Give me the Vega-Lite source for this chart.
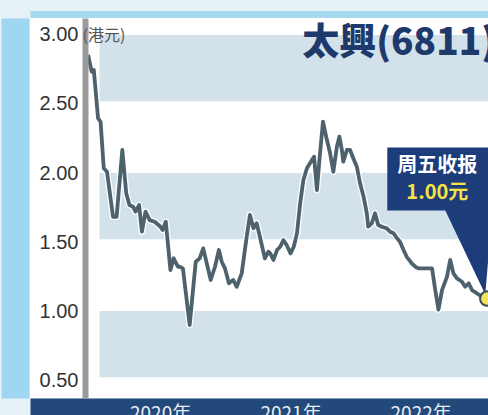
{
  "$schema": "https://vega.github.io/schema/vega-lite/v6.json",
  "width": 458,
  "height": 380,
  "autosize": {"type": "none"},
  "padding": {"left": 30, "top": 18, "right": 0, "bottom": 17},
  "background": "#e6f2f7",
  "view": {"fill": "#ffffff", "stroke": null},
  "title": {
    "text": "太興(6811)",
    "orient": "top",
    "anchor": "end",
    "frame": "group",
    "font": "Noto Sans CJK TC",
    "fontSize": 37,
    "fontWeight": 900,
    "color": "#1e3a6c",
    "baseline": "middle",
    "offset": -67,
    "dx": 8
  },
  "datasets": {
    "bands": [
      {"top": 3.0, "bottom": 2.52},
      {"top": 2.0, "bottom": 1.52},
      {"top": 1.0, "bottom": 0.52}
    ],
    "prices": [
      {"date": "2019-06-13", "price": 2.855},
      {"date": "2019-06-23", "price": 2.734},
      {"date": "2019-06-29", "price": 2.746},
      {"date": "2019-07-11", "price": 2.396},
      {"date": "2019-07-18", "price": 2.372},
      {"date": "2019-07-27", "price": 2.034},
      {"date": "2019-08-05", "price": 2.009},
      {"date": "2019-08-22", "price": 1.683},
      {"date": "2019-09-01", "price": 1.683},
      {"date": "2019-09-17", "price": 2.167},
      {"date": "2019-09-28", "price": 1.853},
      {"date": "2019-10-07", "price": 1.768},
      {"date": "2019-10-17", "price": 1.756},
      {"date": "2019-10-24", "price": 1.72},
      {"date": "2019-11-03", "price": 1.768},
      {"date": "2019-11-11", "price": 1.575},
      {"date": "2019-11-21", "price": 1.72},
      {"date": "2019-12-03", "price": 1.659},
      {"date": "2019-12-17", "price": 1.647},
      {"date": "2020-01-02", "price": 1.611},
      {"date": "2020-01-08", "price": 1.587},
      {"date": "2020-01-17", "price": 1.647},
      {"date": "2020-01-30", "price": 1.297},
      {"date": "2020-02-08", "price": 1.382},
      {"date": "2020-02-20", "price": 1.321},
      {"date": "2020-02-25", "price": 1.321},
      {"date": "2020-03-05", "price": 1.309},
      {"date": "2020-03-24", "price": 0.899},
      {"date": "2020-04-10", "price": 1.357},
      {"date": "2020-04-21", "price": 1.382},
      {"date": "2020-05-01", "price": 1.454},
      {"date": "2020-05-22", "price": 1.225},
      {"date": "2020-06-03", "price": 1.321},
      {"date": "2020-06-14", "price": 1.442},
      {"date": "2020-06-22", "price": 1.357},
      {"date": "2020-07-01", "price": 1.309},
      {"date": "2020-07-12", "price": 1.201},
      {"date": "2020-07-24", "price": 1.225},
      {"date": "2020-08-03", "price": 1.176},
      {"date": "2020-08-17", "price": 1.273},
      {"date": "2020-08-31", "price": 1.538},
      {"date": "2020-09-09", "price": 1.696},
      {"date": "2020-09-19", "price": 1.599},
      {"date": "2020-09-28", "price": 1.636},
      {"date": "2020-10-07", "price": 1.538},
      {"date": "2020-10-21", "price": 1.382},
      {"date": "2020-10-31", "price": 1.43},
      {"date": "2020-11-05", "price": 1.418},
      {"date": "2020-11-14", "price": 1.37},
      {"date": "2020-11-24", "price": 1.442},
      {"date": "2020-12-03", "price": 1.466},
      {"date": "2020-12-12", "price": 1.514},
      {"date": "2020-12-21", "price": 1.478},
      {"date": "2021-01-01", "price": 1.418},
      {"date": "2021-01-10", "price": 1.466},
      {"date": "2021-01-19", "price": 1.563},
      {"date": "2021-01-28", "price": 1.78},
      {"date": "2021-02-06", "price": 1.949},
      {"date": "2021-02-16", "price": 2.034},
      {"date": "2021-03-02", "price": 2.094},
      {"date": "2021-03-08", "price": 2.118},
      {"date": "2021-03-16", "price": 1.877},
      {"date": "2021-03-23", "price": 2.094},
      {"date": "2021-04-02", "price": 2.372},
      {"date": "2021-04-11", "price": 2.263},
      {"date": "2021-04-22", "price": 2.143},
      {"date": "2021-05-01", "price": 2.009},
      {"date": "2021-05-11", "price": 2.191},
      {"date": "2021-05-18", "price": 2.263},
      {"date": "2021-05-25", "price": 2.167},
      {"date": "2021-05-29", "price": 2.082},
      {"date": "2021-06-08", "price": 2.167},
      {"date": "2021-06-17", "price": 2.167},
      {"date": "2021-06-26", "price": 2.107},
      {"date": "2021-07-06", "price": 2.046},
      {"date": "2021-07-15", "price": 1.925},
      {"date": "2021-07-25", "price": 1.828},
      {"date": "2021-08-03", "price": 1.708},
      {"date": "2021-08-07", "price": 1.611},
      {"date": "2021-08-17", "price": 1.636},
      {"date": "2021-08-26", "price": 1.708},
      {"date": "2021-09-04", "price": 1.623},
      {"date": "2021-09-14", "price": 1.611},
      {"date": "2021-09-28", "price": 1.599},
      {"date": "2021-10-07", "price": 1.575},
      {"date": "2021-10-17", "price": 1.563},
      {"date": "2021-10-27", "price": 1.527},
      {"date": "2021-11-04", "price": 1.502},
      {"date": "2021-11-14", "price": 1.442},
      {"date": "2021-11-23", "price": 1.393},
      {"date": "2021-12-07", "price": 1.346},
      {"date": "2021-12-17", "price": 1.321},
      {"date": "2021-12-26", "price": 1.309},
      {"date": "2022-01-05", "price": 1.309},
      {"date": "2022-01-19", "price": 1.309},
      {"date": "2022-02-02", "price": 1.309},
      {"date": "2022-02-11", "price": 1.152},
      {"date": "2022-02-20", "price": 1.01},
      {"date": "2022-03-02", "price": 1.152},
      {"date": "2022-03-16", "price": 1.249},
      {"date": "2022-03-25", "price": 1.37},
      {"date": "2022-04-03", "price": 1.273},
      {"date": "2022-04-13", "price": 1.237},
      {"date": "2022-04-27", "price": 1.212},
      {"date": "2022-05-06", "price": 1.176},
      {"date": "2022-05-16", "price": 1.201},
      {"date": "2022-05-25", "price": 1.152},
      {"date": "2022-06-08", "price": 1.128},
      {"date": "2022-06-22", "price": 1.104},
      {"date": "2022-07-07", "price": 1.09}
    ],
    "callout": [
      {"date": "2022-07-07", "price": 1.09, "line1": "周五收报", "line2": "1.00元"}
    ]
  },
  "resolve": {"axis": {"x": "independent", "y": "independent"}},
  "layer": [
    {
      "data": {"name": "bands"},
      "mark": {"type": "rect", "clip": true, "color": "#d3e2ea"},
      "encoding": {
        "x": {
          "datum": {"year": 2019, "month": 7, "date": 15, "utc": true},
          "type": "temporal",
          "scale": {"type": "utc", "nice": false, "domain": [{"year": 2019, "month": 1, "date": 1, "utc": true}, {"year": 2022, "month": 7, "date": 9, "utc": true}]},
          "axis": {"orient": "top", "offset": 4, "domainColor": "#a6d9f0", "domainWidth": 7, "labels": false, "ticks": false, "grid": false, "title": null, "zindex": 0}
        },
        "x2": {"datum": {"year": 2023, "month": 3, "date": 1, "utc": true}},
        "y": {
          "field": "top",
          "type": "quantitative",
          "scale": {"domain": [0.37, 3.123], "nice": false, "zero": false},
          "axis": {"orient": "left", "offset": 15, "domainColor": "#9fd6f0", "domainWidth": 28, "labels": false, "ticks": false, "grid": false, "title": null, "zindex": 0}
        },
        "y2": {"field": "bottom"}
      }
    },
    {
      "data": {"name": "prices"},
      "mark": {"type": "line", "color": "#ffffff", "strokeWidth": 6.5, "opacity": 0.9, "strokeJoin": "round"},
      "encoding": {
        "x": {
          "field": "date",
          "type": "temporal",
          "scale": {"type": "utc", "nice": false, "domain": [{"year": 2019, "month": 1, "date": 1, "utc": true}, {"year": 2022, "month": 7, "date": 9, "utc": true}]},
          "axis": {"orient": "bottom", "offset": 17, "domainColor": "#23497a", "domainWidth": 34, "labels": false, "ticks": false, "grid": false, "title": null, "zindex": 0}
        },
        "y": {"field": "price", "type": "quantitative", "scale": {"domain": [0.37, 3.123], "nice": false, "zero": false}, "axis": null}
      }
    },
    {
      "data": {"name": "prices"},
      "mark": {"type": "line", "color": "#4d626d", "strokeWidth": 3.8, "strokeJoin": "round"},
      "encoding": {
        "x": {
          "field": "date",
          "type": "temporal",
          "scale": {"type": "utc", "nice": false, "domain": [{"year": 2019, "month": 1, "date": 1, "utc": true}, {"year": 2022, "month": 7, "date": 9, "utc": true}]},
          "axis": {
            "orient": "bottom",
            "offset": 17,
            "domain": false,
            "ticks": false,
            "tickSize": 0,
            "grid": false,
            "values": [{"year": 2020, "month": 1, "date": 1, "utc": true}, {"year": 2021, "month": 1, "date": 1, "utc": true}, {"year": 2022, "month": 1, "date": 1, "utc": true}],
            "format": "%Y年",
            "labelFont": "Noto Sans CJK TC",
            "labelFontSize": 19,
            "labelColor": "#e8eef4",
            "labelBaseline": "top",
            "labelPadding": -11,
            "labelFlush": false,
            "labelOverlap": false,
            "title": null,
            "zindex": 1
          }
        },
        "y": {
          "field": "price",
          "type": "quantitative",
          "scale": {"domain": [0.37, 3.123], "nice": false, "zero": false},
          "axis": {
            "orient": "left",
            "offset": -55,
            "domainColor": "#9b9b9b",
            "domainWidth": 6,
            "ticks": false,
            "tickSize": 0,
            "grid": false,
            "values": [0.5, 1, 1.5, 2, 2.5, 3],
            "format": ".2f",
            "labelFont": "Liberation Sans",
            "labelFontSize": 20,
            "labelColor": "#333333",
            "labelPadding": 7,
            "labelFlush": false,
            "labelOverlap": false,
            "title": "(港元)",
            "titleX": -3,
            "titleY": 17,
            "titleAngle": 0,
            "titleAlign": "left",
            "titleBaseline": "middle",
            "titleFont": "Noto Sans CJK TC",
            "titleFontSize": 16,
            "titleFontWeight": "normal",
            "titleColor": "#555555",
            "zindex": 1
          }
        }
      }
    },
    {
      "data": {"name": "callout"},
      "mark": {
        "type": "point",
        "shape": "M -0.625 -0.944 L 0.1 -0.944 L 0.1 -0.55 L 0.031 -0.55 L -0.0125 -0.025 L -0.2625 -0.55 L -0.625 -0.55 Z",
        "size": 102400,
        "filled": true,
        "color": "#1d3d7a",
        "opacity": 1,
        "strokeWidth": 0
      },
      "encoding": {
        "x": {"field": "date", "type": "temporal", "scale": {"type": "utc", "nice": false, "domain": [{"year": 2019, "month": 1, "date": 1, "utc": true}, {"year": 2022, "month": 7, "date": 9, "utc": true}]}, "axis": null},
        "y": {"field": "price", "type": "quantitative", "scale": {"domain": [0.37, 3.123], "nice": false, "zero": false}, "axis": null}
      }
    },
    {
      "data": {"name": "callout"},
      "mark": {"type": "text", "font": "Noto Sans CJK TC", "fontSize": 20, "fontWeight": "bold", "color": "#ffffff", "dx": -50, "dy": -133, "baseline": "middle", "align": "center"},
      "encoding": {
        "x": {"field": "date", "type": "temporal", "axis": null},
        "y": {"field": "price", "type": "quantitative", "axis": null},
        "text": {"field": "line1"}
      }
    },
    {
      "data": {"name": "callout"},
      "mark": {"type": "text", "font": "Noto Sans CJK TC", "fontSize": 20, "fontWeight": "bold", "color": "#f4e342", "dx": -50, "dy": -106, "baseline": "middle", "align": "center"},
      "encoding": {
        "x": {"field": "date", "type": "temporal", "axis": null},
        "y": {"field": "price", "type": "quantitative", "axis": null},
        "text": {"field": "line2"}
      }
    },
    {
      "data": {"name": "callout"},
      "mark": {"type": "point", "shape": "circle", "size": 210, "filled": true, "color": "#f2e35c", "opacity": 1, "stroke": "#3b4a52", "strokeWidth": 2},
      "encoding": {
        "x": {"field": "date", "type": "temporal", "axis": null},
        "y": {"field": "price", "type": "quantitative", "axis": null}
      }
    }
  ]
}
